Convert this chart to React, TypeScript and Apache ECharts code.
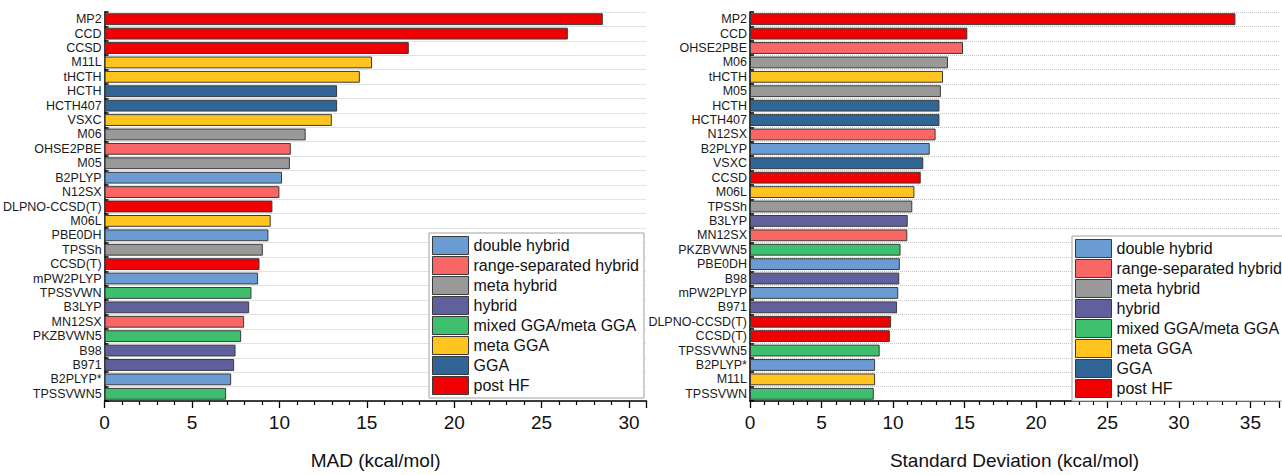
import React, { useEffect, useRef } from "react";
import * as echarts from "echarts";

const TYPES = [
  "double hybrid",
  "range-separated hybrid",
  "meta hybrid",
  "hybrid",
  "mixed GGA/meta GGA",
  "meta GGA",
  "GGA",
  "post HF",
];
const TYPE_COLORS = ["#6A9BD2", "#F96666", "#999999", "#60609C", "#3DBF6E", "#FFC41F", "#316596", "#F00000"];

const LEFT_CATS = [
  "MP2", "CCD", "CCSD", "M11L", "tHCTH", "HCTH", "HCTH407", "VSXC", "M06", "OHSE2PBE",
  "M05", "B2PLYP", "N12SX", "DLPNO-CCSD(T)", "M06L", "PBE0DH", "TPSSh", "CCSD(T)", "mPW2PLYP",
  "TPSSVWN", "B3LYP", "MN12SX", "PKZBVWN5", "B98", "B971", "B2PLYP*", "TPSSVWN5",
];
const LEFT_VALUES = [
  28.5, 26.5, 17.4, 15.3, 14.6, 13.3, 13.3, 13.0, 11.5, 10.65,
  10.6, 10.15, 10.0, 9.6, 9.5, 9.37, 9.05, 8.86, 8.78,
  8.4, 8.27, 7.98, 7.81, 7.49, 7.41, 7.24, 6.95,
];
const LEFT_TYPES = [
  "post HF", "post HF", "post HF", "meta GGA", "meta GGA", "GGA", "GGA", "meta GGA", "meta hybrid", "range-separated hybrid",
  "meta hybrid", "double hybrid", "range-separated hybrid", "post HF", "meta GGA", "double hybrid", "meta hybrid", "post HF", "double hybrid",
  "mixed GGA/meta GGA", "hybrid", "range-separated hybrid", "mixed GGA/meta GGA", "hybrid", "hybrid", "double hybrid", "mixed GGA/meta GGA",
];

const RIGHT_CATS = [
  "MP2", "CCD", "OHSE2PBE", "M06", "tHCTH", "M05", "HCTH", "HCTH407", "N12SX", "B2PLYP",
  "VSXC", "CCSD", "M06L", "TPSSh", "B3LYP", "MN12SX", "PKZBVWN5", "PBE0DH", "B98", "mPW2PLYP",
  "B971", "DLPNO-CCSD(T)", "CCSD(T)", "TPSSVWN5", "B2PLYP*", "M11L", "TPSSVWN",
];
const RIGHT_VALUES = [
  33.95, 15.2, 14.9, 13.85, 13.5, 13.35, 13.25, 13.25, 12.98, 12.57,
  12.12, 11.94, 11.5, 11.35, 11.03, 11.0, 10.53, 10.48, 10.44, 10.37,
  10.28, 9.87, 9.78, 9.07, 8.75, 8.75, 8.66,
];
const RIGHT_TYPES = [
  "post HF", "post HF", "range-separated hybrid", "meta hybrid", "meta GGA", "meta hybrid", "GGA", "GGA", "range-separated hybrid", "double hybrid",
  "GGA", "post HF", "meta GGA", "meta hybrid", "hybrid", "range-separated hybrid", "mixed GGA/meta GGA", "double hybrid", "hybrid", "double hybrid",
  "hybrid", "post HF", "post HF", "mixed GGA/meta GGA", "double hybrid", "meta GGA", "mixed GGA/meta GGA",
];

const FONT = "Liberation Sans, Arial, sans-serif";

function makeXAxis(idx: number, max: number, name: string) {
  return {
    type: "value",
    gridIndex: idx,
    min: 0,
    max,
    interval: 5,
    name,
    nameLocation: "middle",
    nameGap: 50,
    nameTextStyle: { fontSize: 19, color: "#111", fontFamily: FONT },
    axisLine: { show: true, lineStyle: { color: "#000", width: 1.5 } },
    axisTick: { show: true, length: 7, lineStyle: { color: "#000", width: 1.3 } },
    minorTick: { show: true, splitNumber: 5, length: 4, lineStyle: { color: "#000", width: 1.2 } },
    axisLabel: {
      fontSize: 19,
      color: "#111",
      margin: 12,
      fontFamily: FONT,
      formatter: (v: number) => (v % 5 === 0 ? String(v) : ""),
    },
    splitLine: { show: false },
  };
}

function makeYAxis(idx: number, cats: string[]) {
  return {
    type: "category",
    gridIndex: idx,
    data: cats,
    inverse: true,
    axisLine: { show: true, lineStyle: { color: "#000", width: 1.5 } },
    axisTick: { show: true, inside: true, length: 4, lineStyle: { color: "#000", width: 1.5 } },
    axisLabel: { interval: 0, fontSize: 12.5, color: "#1a1a1a", margin: 3, fontFamily: FONT },
    splitLine: { show: true, interval: 0, lineStyle: { color: "#c4c4c4", type: "dotted", width: 1 } },
  };
}

function makeSeries(idx: number, values: number[], types: string[]) {
  return TYPES.map((t, ti) => ({
    type: "bar",
    name: t,
    xAxisIndex: idx,
    yAxisIndex: idx,
    stack: "s" + idx,
    barCategoryGap: "18%",
    itemStyle: { color: TYPE_COLORS[ti], borderColor: "#3a3a3a", borderWidth: 1 },
    data: values.map((v, j) => (types[j] === t ? v : "-")),
  }));
}

function makeLegend(left: number, top: number) {
  return {
    orient: "vertical",
    left,
    top,
    data: TYPES,
    icon: "rect",
    itemWidth: 36,
    itemHeight: 18,
    itemGap: 1,
    padding: [3, 5, 3, 3],
    backgroundColor: "#fff",
    borderColor: "#a0a0a0",
    borderWidth: 1,
    selectedMode: false,
    itemStyle: { borderColor: "#3a3a3a", borderWidth: 1 },
    textStyle: { fontSize: 16, lineHeight: 18, color: "#111", fontFamily: FONT },
  };
}

export default function App() {
  const ref = useRef<HTMLDivElement>(null);
  useEffect(() => {
    if (!ref.current) return;
    const chart = echarts.init(ref.current, undefined, { renderer: "svg" });
    chart.setOption({
      animation: false,
      backgroundColor: "#fff",
      textStyle: { fontFamily: FONT },
      grid: [
        { left: 104, top: 12, width: 542.5, height: 401 },
        { left: 750, top: 12, width: 544, height: 401 },
      ],
      xAxis: [makeXAxis(0, 31, "MAD (kcal/mol)"), makeXAxis(1, 37, "Standard Deviation (kcal/mol)")],
      yAxis: [makeYAxis(0, LEFT_CATS), makeYAxis(1, RIGHT_CATS)],
      legend: [makeLegend(429, 233), makeLegend(1072, 236)],
      series: [...makeSeries(0, LEFT_VALUES, LEFT_TYPES), ...makeSeries(1, RIGHT_VALUES, RIGHT_TYPES)],
    });
    return () => chart.dispose();
  }, []);
  return (
    <div
      ref={ref}
      style={{ position: "fixed", left: 0, top: 0, width: 1282, height: 475, background: "#fff" }}
    />
  );
}
